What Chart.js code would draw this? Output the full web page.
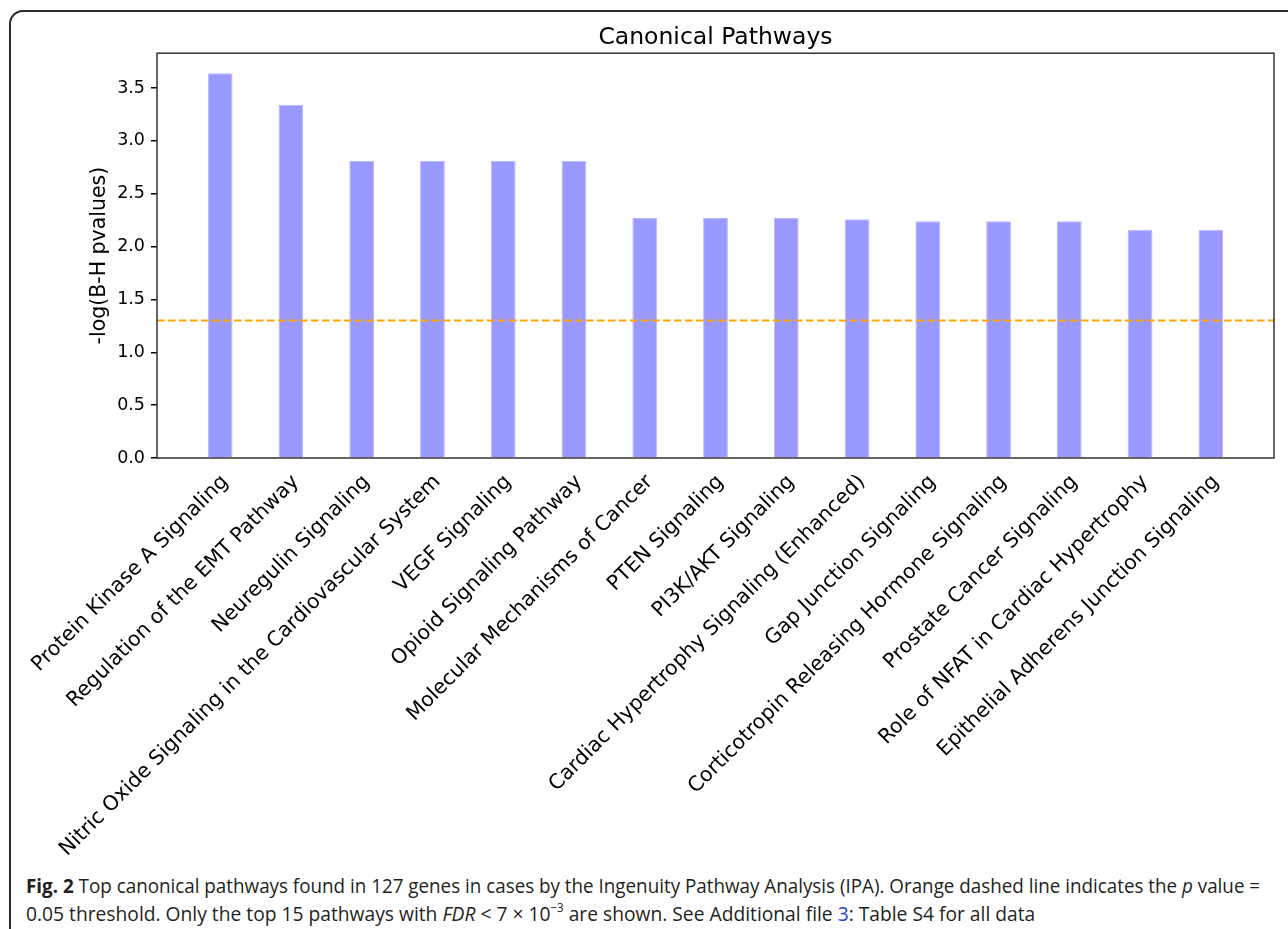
<!DOCTYPE html>
<html>
<head>
<meta charset="utf-8">
<script src="https://cdn.jsdelivr.net/npm/chart.js@4/dist/chart.umd.min.js"></script>
<style>
  html, body { margin: 0; padding: 0; background: #fff; }
  body { width: 1288px; height: 929px; position: relative; overflow: hidden; }
  #frame {
    position: absolute; left: 9px; top: 10px; width: 1300px; height: 940px;
    border: 2px solid #2b2b2b; border-radius: 14px; box-sizing: border-box;
  }
  #wrap { position: absolute; left: 0; top: 0; width: 1288px; height: 860px; }
  .cap {
    position: absolute; left: 26px; white-space: nowrap; transform-origin: 0 0;
    font-family: "Open Sans", "Noto Sans", sans-serif; font-size: 20px; color: #231f20;
  }
  .cap b { font-weight: 700; }
  .cap a { color: #1f3fd6; text-decoration: none; }
  .cap sup { font-size: 12px; vertical-align: 9px; line-height: 0; }
</style>
</head>
<body>
<div id="frame"></div>
<div id="wrap"><canvas id="chart" width="1288" height="860"></canvas></div>
<div class="cap" id="cap1" style="top:872px"><b>Fig. 2</b> Top canonical pathways found in 127 genes in cases by the Ingenuity Pathway Analysis (IPA). Orange dashed line indicates the <i>p</i> value =</div>
<div class="cap" id="cap2" style="top:900px">0.05 threshold. Only the top 15 pathways with <i>FDR</i> &lt; 7 × 10<sup>−3</sup> are shown. See Additional file <a>3</a>: Table S4 for all data</div>
<script>
"use strict";

const PATHWAYS = [
  'Protein Kinase A Signaling',
  'Regulation of the EMT Pathway',
  'Neuregulin Signaling',
  'Nitric Oxide Signaling in the Cardiovascular System',
  'VEGF Signaling',
  'Opioid Signaling Pathway',
  'Molecular Mechanisms of Cancer',
  'PTEN Signaling',
  'PI3K/AKT Signaling',
  'Cardiac Hypertrophy Signaling (Enhanced)',
  'Gap Junction Signaling',
  'Corticotropin Releasing Hormone Signaling',
  'Prostate Cancer Signaling',
  'Role of NFAT in Cardiac Hypertrophy',
  'Epithelial Adherens Junction Signaling'
];
const NEG_LOG_P = [3.64, 3.34, 2.81, 2.81, 2.81, 2.81, 2.27, 2.27, 2.27, 2.26, 2.24, 2.24, 2.24, 2.16, 2.16];
const THRESHOLD = -Math.log10(0.05);
const Y_TICKS = [0, 0.5, 1.0, 1.5, 2.0, 2.5, 3.0, 3.5];
const Y_MAX = 3.83;
const X_PAD = 0.8925;

// fit the caption lines to the widths of the printed figure
[['cap1', 1234], ['cap2', 1009]].forEach(([id, w]) => {
  const el = document.getElementById(id);
  el.style.transform = 'scaleX(' + (w / el.offsetWidth) + ')';
});

const FONT = "'DejaVu Sans', sans-serif";

const threshold = {
  id: 'threshold',
  afterDatasetsDraw(chart) {
    const { ctx, chartArea: a, scales: { y } } = chart;
    const py = y.getPixelForValue(THRESHOLD);
    ctx.save();
    ctx.strokeStyle = '#ffa500';
    ctx.lineWidth = 2;
    ctx.setLineDash([7.5, 3.5]);
    ctx.beginPath();
    ctx.moveTo(a.left, py);
    ctx.lineTo(a.right, py);
    ctx.stroke();
    ctx.restore();
  }
};

const frameBox = {
  id: 'frameBox',
  afterDraw(chart) {
    const { ctx, chartArea: a } = chart;
    ctx.save();
    ctx.strokeStyle = '#333';
    ctx.lineWidth = 1.5;
    ctx.strokeRect(a.left, a.top, a.right - a.left, a.bottom - a.top);
    ctx.restore();
  }
};

new Chart(document.getElementById('chart'), {
  type: 'bar',
  data: {
    datasets: [{
      data: NEG_LOG_P.map((v, i) => ({ x: i, y: v })),
      backgroundColor: '#9999ff',
      borderColor: '#b8b8ff',
      borderWidth: 1,
      barPercentage: 0.35,
      categoryPercentage: 1
    }]
  },
  options: {
    responsive: false,
    animation: false,
    layout: { padding: { left: 0, right: 14, top: 0, bottom: 0 } },
    plugins: {
      legend: { display: false },
      tooltip: { enabled: false },
      title: {
        display: true,
        fullSize: false,
        text: 'Canonical Pathways',
        color: '#000',
        font: { family: FONT, size: 23.5, weight: 'normal' },
        padding: { top: 24, bottom: 1 }
      }
    },
    scales: {
      x: {
        type: 'linear',
        offset: false,
        min: -X_PAD,
        max: PATHWAYS.length - 1 + X_PAD,
        grid: { display: false },
        border: { display: false },
        afterBuildTicks: s => { s.ticks = PATHWAYS.map((_, i) => ({ value: i })); },
        afterFit: s => { s.height = 402; },
        ticks: {
          autoSkip: false,
          minRotation: 45,
          maxRotation: 45,
          padding: 4,
          labelOffset: 5,
          color: '#000',
          font: { family: FONT, size: 20.5 },
          callback: v => PATHWAYS[v]
        }
      },
      y: {
        min: 0,
        max: Y_MAX,
        afterBuildTicks: s => { s.ticks = Y_TICKS.map(v => ({ value: v })); },
        afterFit: s => { s.width = 157; },
        grid: { drawOnChartArea: false, color: '#000', lineWidth: 1.5, tickLength: 6 },
        border: { display: false },
        title: {
          display: true,
          text: '-log(B-H pvalues)',
          color: '#000',
          font: { family: FONT, size: 20.5 },
          padding: { top: 87, bottom: 0 }
        },
        ticks: {
          padding: 6,
          color: '#000',
          font: { family: FONT, size: 17.5 },
          callback: v => v.toFixed(1)
        }
      }
    }
  },
  plugins: [threshold, frameBox]
});
</script>
</body>
</html>
